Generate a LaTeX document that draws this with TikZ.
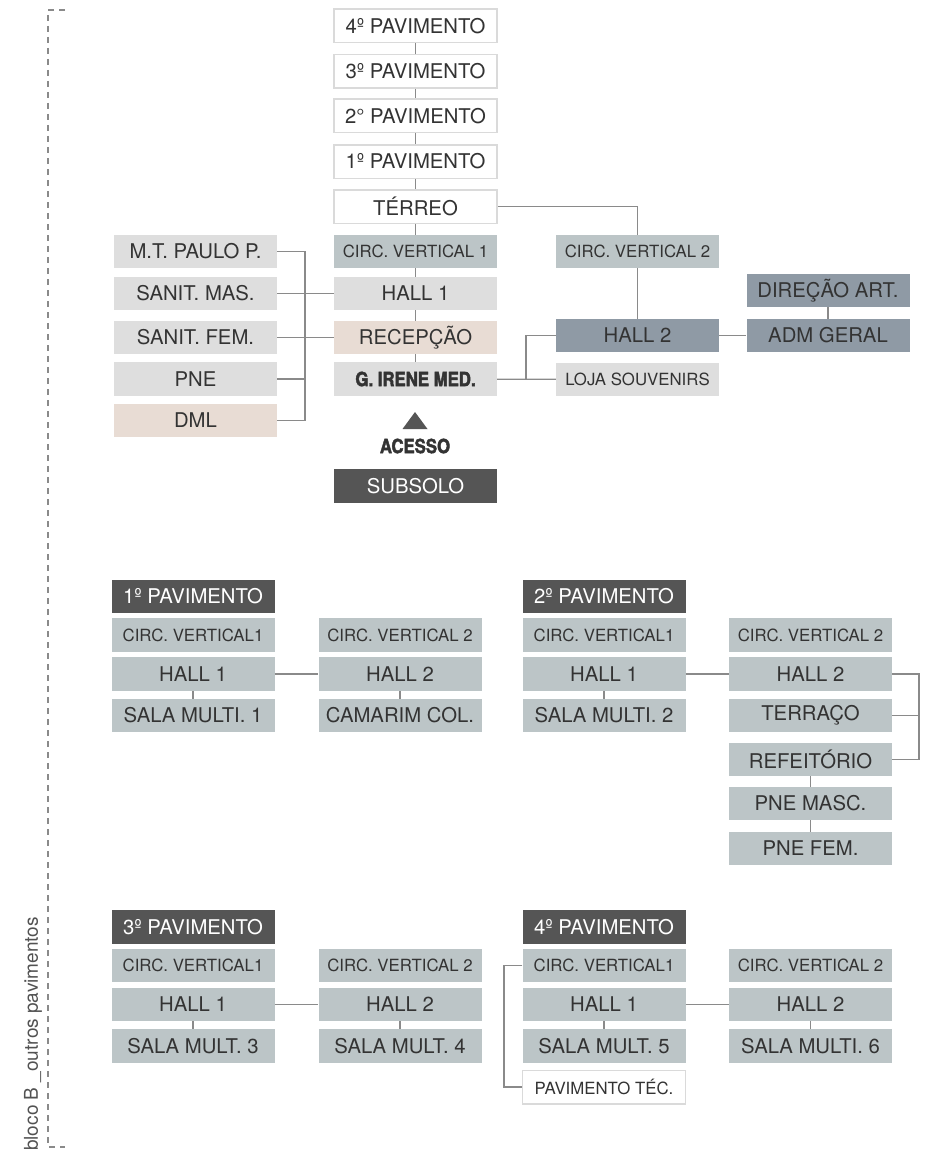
\documentclass[tikz,border=0pt]{standalone}
\usepackage{fontspec}
\setmainfont{TeX Gyre Heros}
\newfontfamily\condfont[FakeStretch=0.86, BoldFeatures={FakeBold=2.2}]{TeX Gyre Heros}
\definecolor{textgray}{HTML}{333333}
\definecolor{linegray}{HTML}{8A8A8A}
\definecolor{bordergray}{HTML}{DADADA}
\definecolor{circgray}{HTML}{BCC5C7}
\definecolor{palegray}{HTML}{DEDEDE}
\definecolor{rose}{HTML}{E8DCD4}
\definecolor{slate}{HTML}{8F9AA5}
\definecolor{darkg}{HTML}{555555}
\begin{document}
\begin{tikzpicture}[x=1pt, y=-1pt,
  box/.style={minimum width=163pt, minimum height=33.5pt, inner sep=0pt, text=textgray, font=\fontsize{20.3}{21}\selectfont},
  small/.style={font=\fontsize{16.8}{18}\selectfont},
  white box/.style={box, fill=white, draw=bordergray, line width=1.5pt},
  circ box/.style={box, fill=circgray},
  light box/.style={box, fill=palegray},
  rose box/.style={box, fill=rose},
  slate box/.style={box, fill=slate},
  dark box/.style={box, fill=darkg, text=white},
  heavy/.style={font=\condfont\bfseries\fontsize{19.5}{20}\selectfont},
  link/.style={draw=linegray, line width=1.2pt},
  bracket/.style={draw=linegray, line width=1.8pt, dash pattern=on 6pt off 5pt}]
\useasboundingbox (0,0) rectangle (925,1153);

% terreo, bloco principal
\foreach \n/\y/\t in {4/26/4º PAVIMENTO, 3/71.5/3º PAVIMENTO, 2/116/2° PAVIMENTO, 1/161.5/1º PAVIMENTO} {
  \node[white box] (pav \n) at (415.5,\y) {\t};
}
\node[white box] (terreo) at (415.5,206.5) {TÉRREO};
\node[circ box, small] (cv1) at (415.5,251.5) {CIRC. VERTICAL 1};
\node[light box] (hall1) at (415.5,293.5) {HALL 1};
\node[rose box] (recepcao) at (415.5,337.5) {RECEPÇÃO};
\node[light box, heavy] (irene) at (415.5,379) {G. IRENE MED.};
\fill[darkg] (415,412) -- (427.5,429) -- (402.5,429) -- cycle;
\node[heavy, text=textgray] (acesso) at (415,446) {ACESSO};
\node[dark box] (subsolo) at (415.5,486) {SUBSOLO};

\node[light box] (mtpaulo) at (195.5,251.5) {M.T. PAULO P.};
\node[light box] (sanmas) at (195.5,293.5) {SANIT. MAS.};
\node[light box] (sanfem) at (195.5,337.5) {SANIT. FEM.};
\node[light box] (pne) at (195.5,379) {PNE};
\node[rose box] (dml) at (195.5,420.5) {DML};

\node[circ box, small] (cv2) at (637.5,251.5) {CIRC. VERTICAL 2};
\node[slate box] (hall2) at (637.5,335.5) {HALL 2};
\node[light box, small] (loja) at (637.5,379.5) {LOJA SOUVENIRS};
\node[slate box] (direcao) at (828,290.5) {DIREÇÃO ART.};
\node[slate box] (adm) at (828,335.5) {ADM GERAL};

\foreach \a/\b in {pav 4/pav 3, pav 3/pav 2, pav 2/pav 1, pav 1/terreo, terreo/cv1, cv1/hall1, hall1/recepcao, recepcao/irene}
  \draw[link] (\a) -- (\b);
\draw[link] (terreo) -| (cv2);
\draw[link] (cv2) -- (hall2);
\draw[link] (hall2) -- (adm);
\draw[link] (direcao) -- (adm);
\draw[link] (irene) -- (loja);
\coordinate (bus b) at (526,379);
\draw[link] (hall2) -| (bus b);
\coordinate (bus a) at (305,420.5);
\draw[link] (mtpaulo) -| (bus a) -- (dml);
\draw[link] (pne) -- (pne -| bus a);
\draw[link] (sanmas) -- (hall1);
\draw[link] (sanfem) -- (recepcao);

% outros pavimentos
\foreach \p/\lx/\rx/\y/\head/\sa/\sb in {1/193/400/596.5/1º PAVIMENTO/SALA MULTI. 1/CAMARIM COL., 2/604/810.5/596.5/2º PAVIMENTO/SALA MULTI. 2/TERRAÇO, 3/193/400/927/3º PAVIMENTO/SALA MULT. 3/SALA MULT. 4, 4/604/810.5/927/4º PAVIMENTO/SALA MULT. 5/SALA MULTI. 6} {
  \node[dark box] (p\p-head) at (\lx,\y) {\head};
  \node[circ box, small] (p\p-cv1) at (\lx,\y+38.5) {CIRC. VERTICAL1};
  \node[circ box] (p\p-hall1) at (\lx,\y+77.5) {HALL 1};
  \node[circ box] (p\p-sala1) at (\lx,\y+119) {\sa};
  \node[circ box, small] (p\p-cv2) at (\rx,\y+38.5) {CIRC. VERTICAL 2};
  \node[circ box] (p\p-hall2) at (\rx,\y+77.5) {HALL 2};
  \node[circ box] (p\p-sala2) at (\rx,\y+119) {\sb};
  \draw[link] (p\p-hall1) -- (p\p-hall2);
  \draw[link] (p\p-hall1) -- (p\p-sala1);
}
\foreach \p in {1,3,4}
  \draw[link] (p\p-hall2) -- (p\p-sala2);

\node[circ box] (refeitorio) at (810.5,759.5) {REFEITÓRIO};
\node[circ box] (pne masc) at (810.5,803.5) {PNE MASC.};
\node[circ box] (pne fem) at (810.5,848.5) {PNE FEM.};
\coordinate (bus c) at (919,759.5);
\draw[link] (p2-hall2) -| (bus c) -- (refeitorio);
\draw[link] (p2-sala2) -- (p2-sala2 -| bus c);
\draw[link] (refeitorio) -- (pne masc);
\draw[link] (pne masc) -- (pne fem);

\node[white box, small] (pavtec) at (604,1087) {PAVIMENTO TÉC.};
\coordinate (bus d) at (504,1087);
\draw[link] (p4-cv1) -| (bus d) -- (pavtec);

\draw[bracket] (65,10) -| (48,1147) -- (65,1147);
\node[rotate=90, anchor=west, inner sep=0pt, text=textgray!85, font=\fontsize{19}{21}\selectfont] (bloco) at (33,1151) {bloco B \_outros pavimentos};
\end{tikzpicture}
\end{document}
